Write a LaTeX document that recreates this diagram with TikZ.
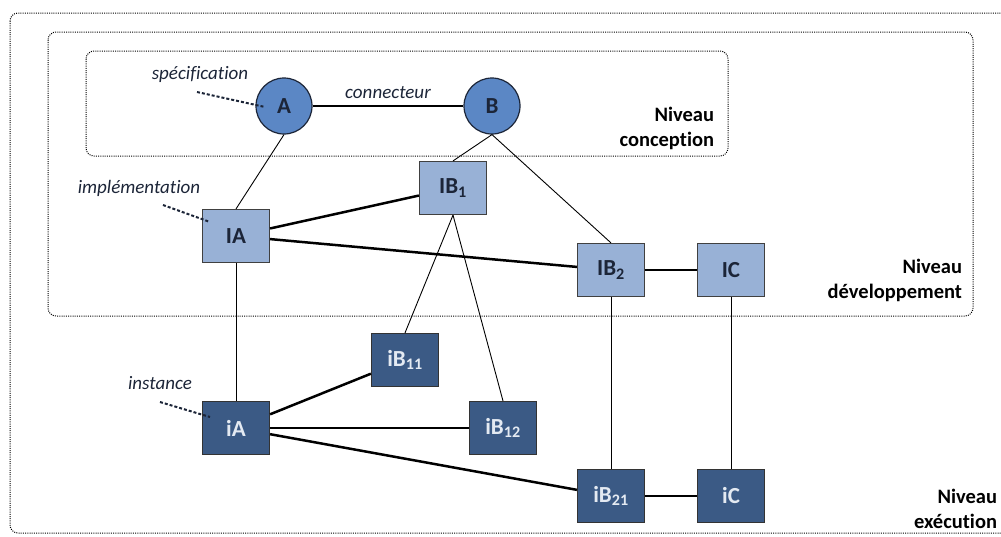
\documentclass[tikz,border=0pt]{standalone}
\usepackage{fontspec}
\setmainfont{Carlito}[Ligatures={NoCommon}]
\usepackage{xcolor}
\definecolor{specblue}{HTML}{5B87C5}
\definecolor{implblue}{HTML}{98B1D6}
\definecolor{instblue}{HTML}{3B5A85}
\definecolor{inkdark}{HTML}{1C2538}
\definecolor{instink}{HTML}{E4EAF2}

\begin{document}
\begin{tikzpicture}[x=1pt,y=1pt,yscale=-1,xscale=1,
	spec/.style={circle, draw=inkdark, line width=1.2pt, fill=specblue, minimum size=56pt, inner sep=0pt, font=\fontsize{23}{25}\selectfont\bfseries, text=inkdark},
	impl/.style={rectangle, draw=black!75, line width=1.2pt, fill=implblue, minimum width=67pt, minimum height=53pt, inner sep=0pt, font=\fontsize{23}{25}\selectfont\bfseries, text=inkdark},
	inst/.style={rectangle, draw=black!80, line width=1.2pt, fill=instblue, minimum width=67pt, minimum height=53pt, inner sep=0pt, font=\fontsize{23}{25}\selectfont\bfseries, text=instink},
	thin/.style={line width=0.9pt},
	thick link/.style={line width=2.5pt},
	frame/.style={draw=black, line width=1pt, dash pattern=on 1pt off 1.2pt, rounded corners=8pt},
	pointer/.style={draw=inkdark, line width=2pt, dash pattern=on 3pt off 2pt},
	note/.style={font=\fontsize{19}{22}\selectfont\itshape, text=inkdark, inner sep=0.75pt},
	level/.style={font=\fontsize{20.5}{25}\selectfont\bfseries, align=right, anchor=east, inner sep=0.75pt}]
		\useasboundingbox (0,0) rectangle (1001,536);

		% Dotted frames of the three levels
		\draw[frame] (10,13) rectangle (1012,533);
		\draw[frame] (48,32) rectangle (973,316);
		\draw[frame] (86,51) rectangle (728,156);

		% Level names, right aligned
		\node[level] (lvl-conc) at (715,128) {Niveau\\conception};
		\node[level] (lvl-dev) at (963,280) {Niveau\\développement};
		\node[level] (lvl-exec) at (998,509) {Niveau\\exécution};

		% Specifications (circles)
		\node[spec] (A) at (284,106) {A};
		\node[spec] (B) at (492,106) {B};

		% Implementations (light boxes)
		\node[impl] (IA) at (236,236) {IA};
		\node[impl] (IB1) at (453,188) {IB\textsubscript{1}};
		\node[impl] (IB2) at (611,270) {IB\textsubscript{2}};
		\node[impl] (IC) at (731,270) {IC};

		% Instances (dark boxes)
		\node[inst] (iA) at (236,428) {iA};
		\node[inst] (iB11) at (405,360) {iB\textsubscript{11}};
		\node[inst] (iB12) at (503,428) {iB\textsubscript{12}};
		\node[inst] (iB21) at (611,496) {iB\textsubscript{21}};
		\node[inst] (iC) at (731,496) {iC};

		% Connectors (thick)
		\draw[thick link] (A) -- node[note, above=5pt] (conn-lbl) {connecteur} (B);
		\draw[thick link] (IA) -- (IB1);
		\draw[thick link] (IA) -- (IB2);
		\draw[thick link] (IB2) -- (IC);
		\draw[thick link] (iA) -- (iB11);
		\draw[thick link] (iA) -- (iB12);
		\draw[thick link] (iA) -- (iB21);
		\draw[thick link] (iB21) -- (iC);

		% Refinement links (thin)
		\draw[thin] (A.south) -- (IA.north);
		\draw[thin] (B.south) -- (IB1.north);
		\draw[thin] (B.south) -- (IB2.north);
		\draw[thin] (IB1.south) -- (iB11.north);
		\draw[thin] (IB1.south) -- (iB12.north);
		\draw[thin] (IA) -- (iA);
		\draw[thin] (IB2) -- (iB21);
		\draw[thin] (IC) -- (iC);

		% Notes with dashed pointers
		\node[note] (spec-lbl) at (200,74) {spécification};
		\coordinate (spec-from) at (197,92);
		\coordinate (spec-to) at (265,107);
		\draw[pointer] (spec-from) -- (spec-to);

		\node[note] (impl-lbl) at (139,188) {implémentation};
		\coordinate (impl-from) at (163,205);
		\coordinate (impl-to) at (210,222);
		\draw[pointer] (impl-from) -- (impl-to);

		\node[note] (inst-lbl) at (160,383) {instance};
		\coordinate (inst-from) at (160,402);
		\coordinate (inst-to) at (210,417);
		\draw[pointer] (inst-from) -- (inst-to);
	\end{tikzpicture}
\end{document}
